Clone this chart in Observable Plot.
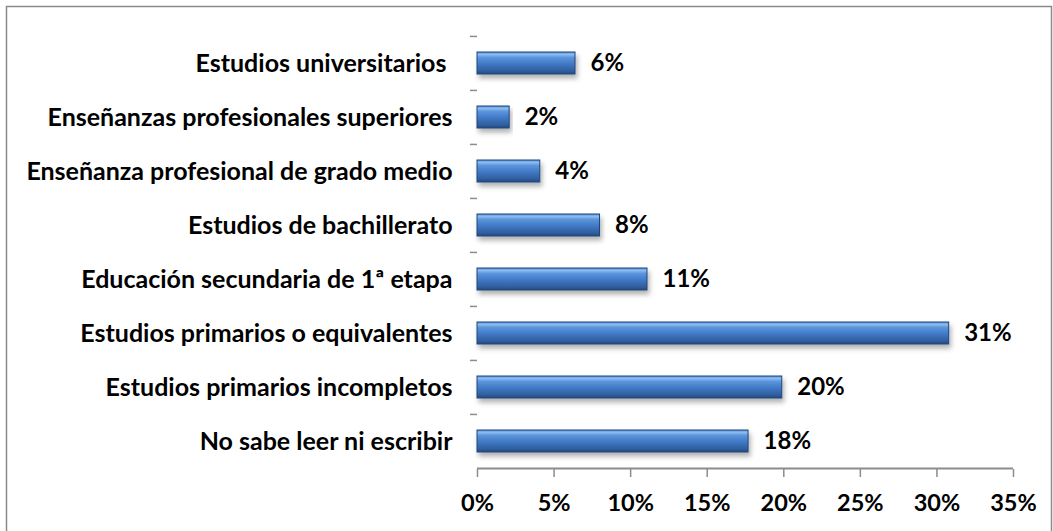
<!DOCTYPE html>
<html>
<head>
<meta charset="utf-8">
<script src="https://cdn.jsdelivr.net/npm/d3@7"></script>
<script src="https://cdn.jsdelivr.net/npm/@observablehq/plot@0.6"></script>
<style>
  html, body { margin: 0; padding: 0; background: #fff; }
  #chart { position: relative; width: 1053px; height: 531px; }
  #chart svg { display: block; }
</style>
</head>
<body>
<div id="chart"></div>
<script>
// Data (top to bottom as shown)
const categories = [
  "Estudios universitarios\u00a0",
  "Enseñanzas profesionales superiores",
  "Enseñanza profesional de grado medio",
  "Estudios de bachillerato",
  "Educación secundaria de 1ª etapa",
  "Estudios primarios o equivalentes",
  "Estudios primarios incompletos",
  "No sabe leer ni escribir"
];
const values = [6.4, 2.1, 4.1, 8.0, 11.1, 30.8, 19.9, 17.7];
const valueLabels = ["6%", "2%", "4%", "8%", "11%", "31%", "20%", "18%"];
const xTicks = [0, 5, 10, 15, 20, 25, 30, 35];

const rows = categories.map((c, i) => ({cat: c, value: values[i], label: valueLabels[i]}));

const W = 1053, H = 531;
const mTop = 36, mBottom = 62, mLeft = 477, mRight = 40;
const step = (H - mTop - mBottom) / categories.length;
const font = "Lato, 'Open Sans', sans-serif";

const chart = Plot.plot({
  width: W,
  height: H,
  marginTop: mTop,
  marginBottom: mBottom,
  marginLeft: mLeft,
  marginRight: mRight,
  style: {fontFamily: font, fontSize: "23px", fontWeight: "bold", color: "#000", background: "transparent", overflow: "visible"},
  x: {domain: [0, 35], ticks: xTicks},
  y: {domain: categories, paddingInner: 0.59, paddingOuter: 0.295},
  marks: [
    // category-boundary tick dashes on the left
    Plot.ruleY(categories, {y: d => d, x1: -0.46, x2: 0, dy: -step / 2, stroke: "#8c8c8c", strokeWidth: 1.5}),
    // x-axis baseline
    Plot.ruleY([categories[categories.length - 1]], {y: d => d, x1: 0, x2: 35, dy: step / 2, stroke: "#8c8c8c", strokeWidth: 2}),
    Plot.barX(rows, {y: "cat", x: "value", fill: "url(#barGrad)", stroke: "#1f467c", strokeWidth: 1}),
    Plot.text(rows, {y: "cat", x: "value", text: "label", dx: 15, textAnchor: "start", fill: "#000", fontSize: 24, fontWeight: "bold"}),
    Plot.axisX({ticks: xTicks, tickFormat: d => d + "%", tickSize: 8, tickPadding: 17, stroke: "#8c8c8c", strokeWidth: 1.5, fill: "#000", fontSize: 23.5, fontWeight: "bold", label: null}),
    Plot.axisY({tickSize: 0, tickPadding: 25, fill: "#000", fontSize: 25, fontWeight: "bold", label: null})
  ]
});

document.getElementById("chart").appendChild(chart);

// gradient + shadow definitions, and chart border
const svg = d3.select(chart);
const defs = svg.insert("defs", ":first-child");
const g = defs.append("linearGradient").attr("id", "barGrad").attr("x1", 0).attr("y1", 0).attr("x2", 0).attr("y2", 1);
[["0%", "#4f86cf"], ["10%", "#8ebff2"], ["25%", "#5c95dc"], ["55%", "#3f78c4"], ["85%", "#315f9f"], ["100%", "#22497f"]]
  .forEach(([o, c]) => g.append("stop").attr("offset", o).attr("stop-color", c));
const f = defs.append("filter").attr("id", "shadow").attr("x", "-5%").attr("y", "-30%").attr("width", "115%").attr("height", "180%");
f.append("feDropShadow").attr("dx", 2).attr("dy", 4).attr("stdDeviation", 2.5).attr("flood-color", "#000").attr("flood-opacity", 0.3);
svg.selectAll("rect").filter(function() { return this.getAttribute("fill") === "url(#barGrad)" || (this.parentNode && this.parentNode.getAttribute("fill") === "url(#barGrad)"); })
  .attr("filter", "url(#shadow)");
svg.insert("rect", "defs + *").attr("x", 6.5).attr("y", 6.5).attr("width", W - 8).attr("height", H + 10)
  .attr("fill", "none").attr("stroke", "#8a8a8a").attr("stroke-width", 1.5);
</script>
</body>
</html>
